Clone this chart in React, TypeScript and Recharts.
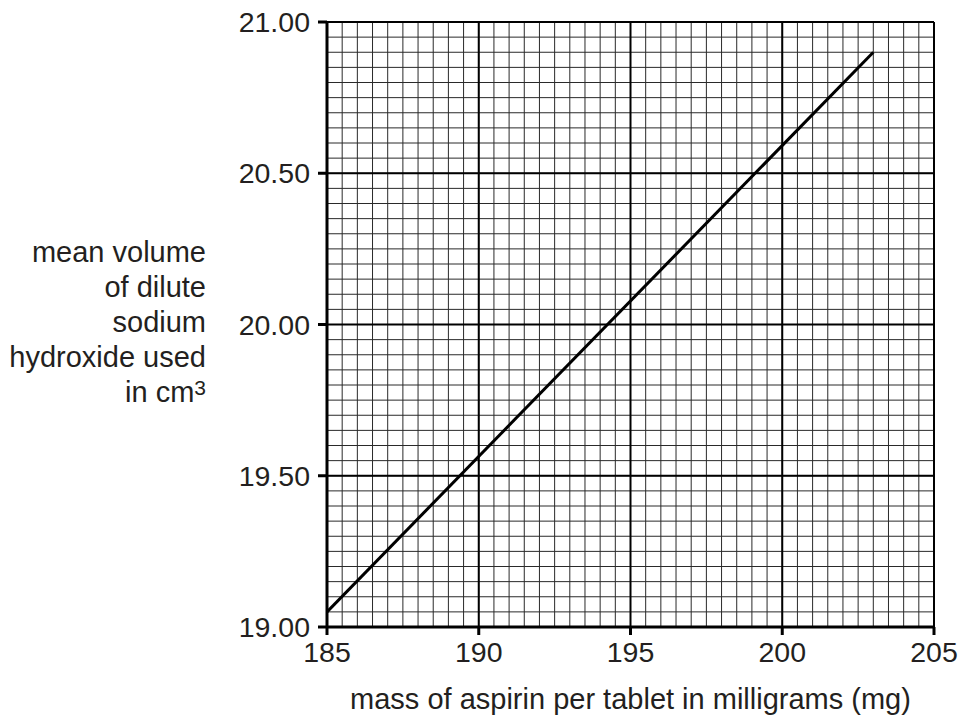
import React from "react";
import { LineChart, Line, XAxis, YAxis, ReferenceLine } from "recharts";

const massTicks = [185, 190, 195, 200, 205];
const volumeTicks = [19.0, 19.5, 20.0, 20.5, 21.0];
const lineMass = [185, 203];
const lineVolume = [19.05, 20.9];
const yLabelLines = ["mean volume", "of dilute", "sodium", "hydroxide used", "in cm"];
const xLabel = "mass of aspirin per tablet in milligrams (mg)";

const data = lineMass.map((m, i) => ({ mass: m, volume: lineVolume[i] }));

const minorX: number[] = [];
for (let i = 0; i <= 40; i++) minorX.push(185 + i * 0.5);
const minorY: number[] = [];
for (let i = 0; i <= 40; i++) minorY.push(Math.round((19 + i * 0.05) * 100) / 100);

const FONT = "'Liberation Sans', Arial, Helvetica, sans-serif";
const TXT = "#231f20";

const YLabel = (props: any) => {
  const vb = props.viewBox || { x: 0, y: 0 };
  const x = vb.x + 206;
  const y0 = 262;
  return (
    <text x={x} y={y0} textAnchor="end" fontSize={29} fontFamily={FONT} fill={TXT}>
      {yLabelLines.map((l, i) => (
        <tspan key={i} x={x} y={y0 + i * 35}>
          {l}
          {i === yLabelLines.length - 1 ? <tspan fontSize={21} dy={-7}>3</tspan> : null}
        </tspan>
      ))}
    </text>
  );
};

const XLabel = (props: any) => {
  const vb = props.viewBox || { x: 0, y: 0, width: 0 };
  return (
    <text x={vb.x + vb.width / 2} y={709} textAnchor="middle" fontSize={29} fontFamily={FONT} fill={TXT}>
      {xLabel}
    </text>
  );
};

export default function App() {
  return (
    <div style={{ position: "absolute", left: 0, top: 0, background: "#fff" }}>
      <LineChart width={960} height={716} data={data} margin={{ top: 22, right: 26, bottom: 0, left: 0 }}>
        <XAxis
          dataKey="mass"
          type="number"
          domain={[185, 205]}
          ticks={massTicks}
          height={89}
          tickSize={8}
          tickMargin={7}
          axisLine={{ stroke: "#000", strokeWidth: 3 }}
          tickLine={{ stroke: "#000", strokeWidth: 3 }}
          tick={{ fontSize: 28.5, fontFamily: FONT, fill: TXT }}
          label={<XLabel />}
          allowDataOverflow
        />
        <YAxis
          dataKey="volume"
          type="number"
          domain={[19, 21]}
          ticks={volumeTicks}
          width={327}
          tickSize={9}
          tickMargin={8}
          axisLine={{ stroke: "#000", strokeWidth: 3 }}
          tickLine={{ stroke: "#000", strokeWidth: 3 }}
          tick={{ fontSize: 28.5, fontFamily: FONT, fill: TXT }}
          tickFormatter={(v: number) => v.toFixed(2)}
          label={<YLabel />}
          allowDataOverflow
        />
        {minorX.map((v) => (
          <ReferenceLine key={"mx" + v} x={v} stroke="#2a2a2a" strokeWidth={1} ifOverflow="visible" />
        ))}
        {minorY.map((v) => (
          <ReferenceLine key={"my" + v} y={v} stroke="#2a2a2a" strokeWidth={1} ifOverflow="visible" />
        ))}
        {massTicks.map((v) => (
          <ReferenceLine key={"Mx" + v} x={v} stroke="#000" strokeWidth={2} ifOverflow="visible" />
        ))}
        {volumeTicks.map((v) => (
          <ReferenceLine key={"My" + v} y={v} stroke="#000" strokeWidth={2} ifOverflow="visible" />
        ))}
        <Line
          dataKey="volume"
          stroke="#000"
          strokeWidth={3}
          dot={false}
          isAnimationActive={false}
          type="linear"
        />
      </LineChart>
    </div>
  );
}
